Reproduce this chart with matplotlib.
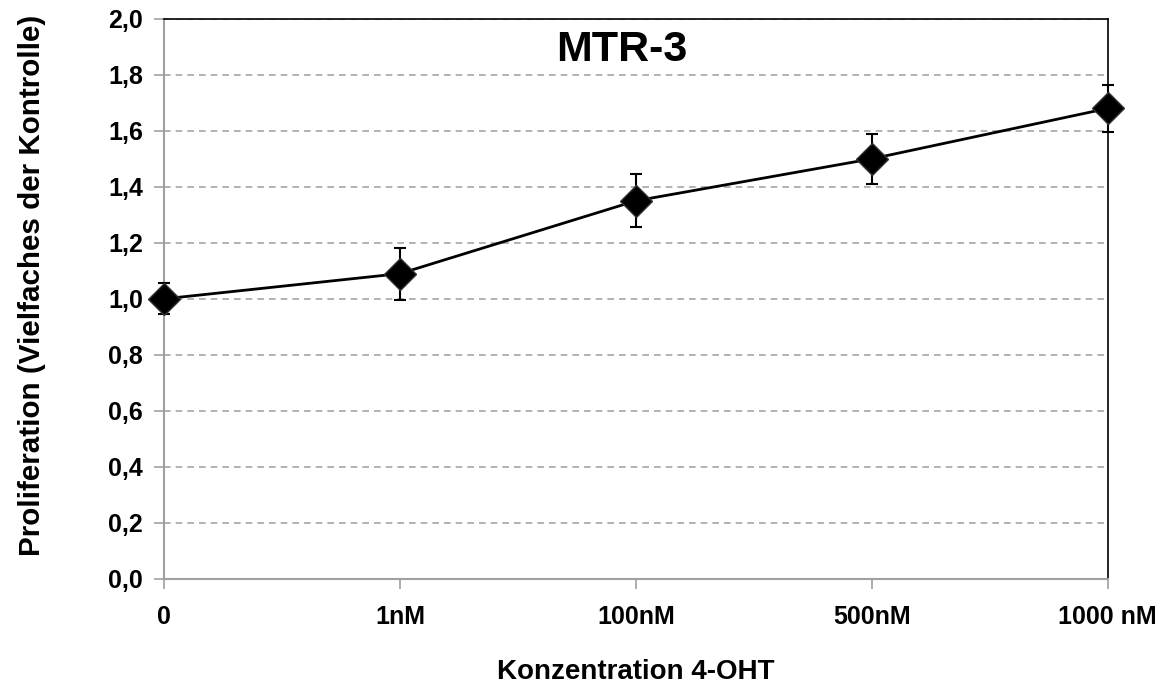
import matplotlib
matplotlib.use("Agg")
import matplotlib.pyplot as plt
from matplotlib.ticker import FuncFormatter, MultipleLocator

# data
categories = ["0", "1nM", "100nM", "500nM", "1000 nM"]
proliferation = [1.00, 1.09, 1.35, 1.50, 1.68]
errors = [0.055, 0.093, 0.095, 0.09, 0.083]

plt.rcParams['font.family'] = ['Liberation Sans', 'DejaVu Sans']
plt.rcParams['font.weight'] = 'bold'

fig = plt.figure(figsize=(11.71, 6.95), dpi=100, facecolor='white')
ax = fig.add_axes([0.140, 0.167, 0.806, 0.806])

x = list(range(len(categories)))
ax.errorbar(x, proliferation, yerr=errors, color='black', lw=2,
            marker='D', markersize=16, markerfacecolor='black', markeredgecolor='#333333',
            ecolor='black', elinewidth=1.5, capsize=4, capthick=1.5, zorder=3, clip_on=False)

ax.set_xlim(0, len(categories) - 1)
ax.set_ylim(0, 2.0)
ax.yaxis.set_major_locator(MultipleLocator(0.2))
ax.yaxis.set_major_formatter(FuncFormatter(lambda v, p: f"{v:.1f}".replace('.', ',')))
ax.set_xticks(x)
ax.set_xticklabels(categories)

ax.grid(axis='y', color='#a6a6a6', ls=(0, (4, 3)), lw=1.2)
ax.set_axisbelow(True)

for s in ['left', 'bottom']:
    ax.spines[s].set_color('#a0a0a0')
    ax.spines[s].set_linewidth(1.5)
for s in ['top', 'right']:
    ax.spines[s].set_color('black')
    ax.spines[s].set_linewidth(1.2)

ax.tick_params(axis='both', colors='#a0a0a0', length=7, width=1.2, labelcolor='black', labelsize=18)
ax.tick_params(axis='x', pad=12)
ax.tick_params(axis='y', pad=8)

ax.text(0.485, 0.945, "MTR-3", transform=ax.transAxes, ha='center', va='center',
        fontsize=31, fontweight='bold')

fig.text(0.543, 0.033, "Konzentration 4-OHT", ha='center', va='center', fontsize=20, fontweight='bold')
fig.text(0.027, 0.59, "Proliferation (Vielfaches der Kontrolle)", ha='center', va='center',
         rotation=90, fontsize=21.3, fontweight='bold')

fig.savefig("out.png", dpi=100, facecolor='white')
